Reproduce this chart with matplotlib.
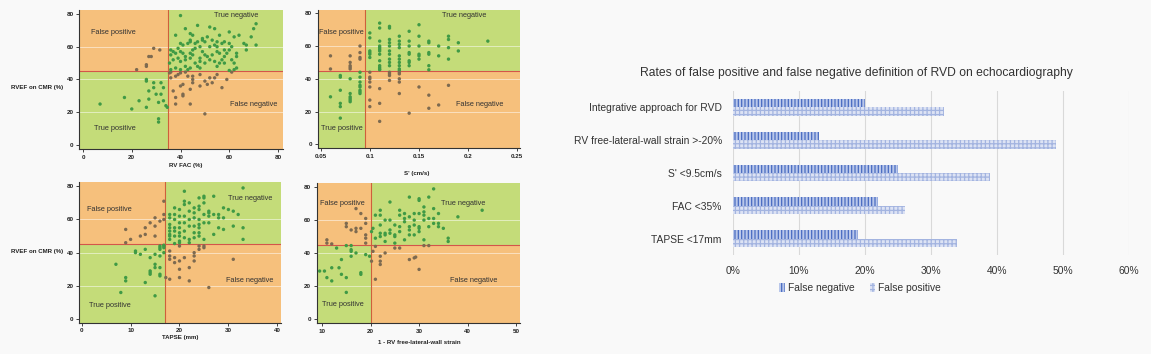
import numpy as np
import matplotlib
matplotlib.use('Agg')
import matplotlib.pyplot as plt
from matplotlib.patches import Rectangle, Patch

plt.rcParams['font.family'] = ['Liberation Sans', 'DejaVu Sans']
plt.rcParams['hatch.linewidth'] = 0.9

# ---- scatter data (x, RVEF on CMR) ----
fac_points = [
    # false positive
    (29, 59), (31.5, 58), (27, 54), (28, 54), (26, 49), (26, 48), (22, 46),
    # true positive
    (7, 25), (17, 29), (20, 22), (23, 27), (26, 40), (26, 39), (26, 23), (27, 33), (27, 28),
    (29, 38), (29, 35), (30, 31), (31, 16), (31, 14), (31, 26), (32, 38), (32, 31), (33, 27),
    (33, 35), (34, 24), (34.6, 23),
    # false negative
    (35.5, 44), (36, 41), (36, 44.5), (37, 33), (38, 29), (38, 25), (38, 42), (39, 43), (40, 44),
    (40, 36), (41, 31), (41, 30), (41, 37), (42, 44.5), (43, 42), (44, 34), (44, 25), (45, 42),
    (45, 40), (45, 38), (48, 43), (48, 36), (50, 39), (50, 19), (51, 37), (52, 41), (53, 38),
    (54, 41), (55, 43), (57, 35), (59, 40), (61, 44.5),
    # true negative
    (40, 79), (38, 67), (42, 71), (44, 68), (45, 67), (47, 73), (49, 65), (52, 72), (54, 71),
    (56, 67), (60, 69), (62, 66), (64, 67), (66, 62), (69, 66), (70, 71), (71, 74), (71, 61),
    (67, 58), (67, 61), (63, 56), (63, 54), (61, 60), (60, 58), (57, 62), (58, 63), (55, 63),
    (55, 57), (56, 56), (54, 61), (53, 64), (51, 66), (50, 63), (49, 64), (47, 63), (46, 62),
    (44, 64), (44, 63), (43, 62), (40, 62), (41, 61), (40, 57), (39, 59), (37, 57), (36, 58),
    (38, 56), (36, 55), (35.5, 50), (37, 52), (40, 51), (42, 54), (42, 52), (44, 56), (44, 53),
    (45, 55), (46, 50), (47, 48), (48, 53), (49, 57), (50, 55), (51, 54), (52, 52), (53, 55),
    (54, 51), (55, 48), (57, 52), (58, 54), (59, 56), (60, 62), (61, 52), (62, 50), (63, 47),
    (62, 46), (60, 45.5), (56, 50), (48, 47), (42, 48), (44, 47), (43, 46), (40, 46), (38, 47),
    (36, 46), (45, 58), (46, 59), (48, 60), (52, 60), (55, 60), (58, 58), (58, 50), (50, 50),
    (48, 51), (41, 56), (39, 53),
]

# S' values come in columns of 0.01 cm/s
s_cols = [0.06, 0.07, 0.08, 0.09, 0.10, 0.11, 0.12, 0.13, 0.14, 0.15, 0.16, 0.17, 0.18, 0.19, 0.22]
s_vals = [
    [54, 46, 29],
    [42, 41, 33, 25, 23, 16],
    [54, 50, 48, 47, 46, 40, 31, 29, 28, 27, 26],
    [60, 56, 53, 52, 44, 41, 38, 36, 35, 33, 32, 31],
    [68, 65, 57, 56, 55, 53, 44, 41, 40, 38, 35, 27, 23],
    [74, 71, 63, 60, 59, 58, 57, 55, 51, 48, 47, 46, 45.5, 34, 25, 14],
    [72, 71, 64, 62, 60, 57, 55, 52, 50, 48, 44, 43, 42, 39],
    [66, 63, 61, 59, 54, 52, 50, 48, 46, 45, 44, 43, 40, 38, 31],
    [69, 63, 60, 56, 55, 51, 50, 48, 19],
    [73, 66, 60, 55, 54, 52, 35],
    [63, 62, 56, 55, 48, 45.5, 30, 22],
    [60, 54, 24],
    [66, 64, 59, 52, 36],
    [62, 57],
    [63],
]

tapse_points = [
    # false positive
    (9, 54), (9, 46), (10, 48), (12, 50), (13, 51), (13, 55), (14, 58), (15, 61), (15, 56),
    (15, 50), (16, 59), (16.8, 71), (16.8, 63), (16.8, 60),
    # true positive
    (7, 33), (8, 16), (9, 25), (9, 23), (11, 41), (11, 40), (12, 39), (13, 42), (13, 22),
    (14, 37), (14, 29), (14, 28), (14, 27), (15, 39), (15, 33), (15, 31), (15, 14), (16, 38),
    (16, 27), (16, 26), (16, 44), (16, 43), (16, 42), (16, 31), (16.8, 44.5), (16.8, 44),
    (16.8, 43), (16.8, 40),
    # false negative
    (17.2, 25), (18, 41), (18, 38), (18, 36), (18, 24), (19, 37), (19, 34), (20, 44), (20, 35),
    (20, 30), (20, 25), (21, 37), (22, 31), (22, 23), (23, 40), (23, 38), (23, 35), (24, 44),
    (24, 42), (25, 44), (25, 43), (26, 19), (31, 36),
    # true negative
    (33, 79), (21, 77), (18, 63), (18, 61), (18, 57), (18, 55), (18, 53), (18, 51), (18, 50),
    (18, 48), (19, 67), (19, 63), (19, 60), (19, 55), (19, 53), (19, 50), (20, 66), (20, 62),
    (20, 58), (20, 55), (20, 52), (20, 50), (20, 47), (20, 46), (21, 71), (21, 69), (21, 62),
    (21, 58), (21, 53), (21, 49), (22, 70), (22, 65), (22, 60), (22, 56), (22, 48), (22, 46),
    (23, 67), (23, 64), (23, 61), (23, 56), (23, 52), (23, 49), (24, 73), (24, 68), (24, 66),
    (24, 60), (24, 57), (24, 55), (24, 52), (24, 50), (25, 74), (25, 73), (25, 70), (25, 63),
    (25, 58), (25, 48), (26, 62), (26, 58), (27, 74), (27, 63), (27, 51), (26, 64), (26, 65),
    (28, 63), (28, 61), (28, 55), (29, 67), (29, 54), (29, 61), (30, 66), (31, 65), (31, 56),
    (32, 63), (33, 55), (33, 48), (19, 45.5),
]

strain_points = [
    # false positive
    (11, 48), (11, 46), (12, 45.5), (15, 58), (15, 56), (16, 54), (17, 67), (17, 55), (17, 53),
    (18, 64), (19, 61), (19, 58), (19, 51), (19, 49), (19, 46), (18, 55),
    # true positive
    (9.5, 29), (10.5, 29), (11, 25), (12, 31), (12, 23), (13, 43), (13.5, 31), (14, 36),
    (14, 27), (15, 44.5), (15, 25), (15, 16), (16, 44.5), (16, 41), (16, 42), (16, 38),
    (17, 40), (18, 28), (18, 27), (19, 39), (19.8, 38),
    # false negative
    (20.2, 35), (20.5, 41), (21, 44), (21, 24), (22, 38), (22, 35), (22, 33), (23, 40),
    (25, 43), (26, 43), (28, 36), (29, 37), (29.3, 37.5), (30, 30), (31, 44.5), (32, 44.5),
    # true negative
    (20.2, 53), (20.5, 55), (21, 63), (21, 49), (22, 57), (22, 52), (22, 50), (22, 63), (22, 66),
    (23, 60), (23, 52), (23, 51), (23, 47), (24, 60), (24, 54), (24, 52), (24, 71), (25, 57),
    (25, 51), (25, 50), (25, 46), (26, 66), (26, 63), (26, 56), (26, 53), (27, 64), (27, 59),
    (27, 61), (27, 48), (28, 74), (28, 62), (28, 56), (28, 51), (28, 54), (29, 64), (29, 57),
    (29, 51), (30, 73), (30, 72), (30, 64), (30, 56), (30, 55), (30, 53), (31, 68), (31, 65),
    (31, 60), (31, 48), (32, 74), (32, 61), (32, 56), (33, 79), (33, 67), (33, 61), (33, 58),
    (34, 64), (34, 58), (34, 56), (35, 55), (36, 49), (36, 47), (38, 62), (43, 66), (29, 60),
    (31, 63),
]

# ---- bar chart data ----
methods = ['Integrative approach for RVD', 'RV free-lateral-wall strain >-20%',
           "S' <9.5cm/s", 'FAC <35%', 'TAPSE <17mm']
false_negative = [0.20, 0.13, 0.25, 0.22, 0.19]
false_positive = [0.32, 0.49, 0.39, 0.26, 0.34]

BG = '#f9f9f9'
ORANGE = '#f6c07c'
GREEN = '#c4dc79'
PT_GREEN = '#3f9a45'
PT_BROWN = '#7d6a50'

fig = plt.figure(figsize=(11.51, 3.54), dpi=100, facecolor=BG)


def quad_panel(rect, pts, thr, xlim, ylim, xticks, xticklabels, texts):
    ax = fig.add_axes(rect)
    ax.set_facecolor(BG)
    x0, x1 = xlim
    y0, y1 = ylim
    ax.add_patch(Rectangle((x0, 45), thr - x0, y1 - 45, fc=ORANGE, ec='none', zorder=0))
    ax.add_patch(Rectangle((thr, 45), x1 - thr, y1 - 45, fc=GREEN, ec='none', zorder=0))
    ax.add_patch(Rectangle((x0, y0), thr - x0, 45 - y0, fc=GREEN, ec='none', zorder=0))
    ax.add_patch(Rectangle((thr, y0), x1 - thr, 45 - y0, fc=ORANGE, ec='none', zorder=0))
    for yy in [20, 40, 60]:
        ax.axhline(yy, color='white', lw=0.6, alpha=0.6, zorder=0.5)
    ax.axhline(45, color='#d4554a', lw=0.8, zorder=2)
    ax.axvline(thr, color='#cf5f3c', lw=0.8, zorder=2)
    pts = np.array(pts, dtype=float)
    green = (pts[:, 0] < thr) == (pts[:, 1] < 45)
    colors = np.where(green, PT_GREEN, PT_BROWN)
    ax.scatter(pts[:, 0], pts[:, 1], s=6, c=colors, linewidths=0, zorder=3)
    ax.set_xlim(xlim)
    ax.set_ylim(ylim)
    ax.set_xticks(xticks)
    ax.set_xticklabels(xticklabels)
    ax.set_yticks([0, 20, 40, 60, 80])
    for sp in ['top', 'right']:
        ax.spines[sp].set_visible(False)
    for sp in ['left', 'bottom']:
        ax.spines[sp].set_color('#333333')
        ax.spines[sp].set_linewidth(0.8)
    ax.tick_params(length=2, width=0.6, pad=2, labelsize=4.5, colors='#222222')
    for lab in ax.get_xticklabels() + ax.get_yticklabels():
        lab.set_fontweight('bold')
    for txt, (tx, ty) in texts.items():
        ax.text(tx, ty, txt, fontsize=5.3, color='#333333', ha='left', va='center', zorder=4)
    return ax


quad_panel([0.06864, 0.57910, 0.17724, 0.39266], fac_points, 35,
           (-1.64, 82.05), (-2.44, 82.4), [0, 20, 40, 60, 80], ['0', '20', '40', '60', '80'],
           {'False positive': (3.3, 68.6), 'True negative': (53.7, 79),
            'False negative': (60.3, 24.6), 'True positive': (4.6, 10.3)})

s_points = [(x, v) for x, col in zip(s_cols, s_vals) for v in col]
quad_panel([0.27602, 0.58192, 0.17576, 0.38983], s_points, 0.095,
           (0.047, 0.2527), (-2.26, 82), [0.05, 0.1, 0.15, 0.2, 0.25],
           ['0.05', '0.1', '0.15', '0.2', '0.25'],
           {'False positive': (0.048, 68), 'True negative': (0.173, 78.6),
            'False negative': (0.188, 24.4), 'True positive': (0.0503, 9.8)})

quad_panel([0.06864, 0.08842, 0.1755, 0.39661], tapse_points, 17,
           (-0.55, 40.76), (-2.2, 82.4), [0, 10, 20, 30, 40], ['0', '10', '20', '30', '40'],
           {'False positive': (1.15, 66), 'True negative': (29.9, 72.5),
            'False negative': (29.5, 23), 'True positive': (1.5, 8)})

quad_panel([0.27515, 0.08672, 0.17663, 0.39548], strain_points, 20,
           (8.9, 50.8), (-2.8, 82.4), [10, 20, 30, 40, 50], ['10', '20', '30', '40', '50'],
           {'False positive': (9.6, 70), 'True negative': (34.6, 70),
            'False negative': (36.4, 23.4), 'True positive': (10, 8.8)})

W, H = 1151, 354
lab_kw = dict(fontsize=4.4, fontweight='bold', color='#222222', ha='center', va='center')
fig.text(37 / W, 1 - 88 / H, 'RVEF on CMR (%)', **lab_kw)
fig.text(37 / W, 1 - 252 / H, 'RVEF on CMR (%)', **lab_kw)
fig.text(186 / W, 1 - 166 / H, 'RV FAC (%)', **lab_kw)
fig.text(417 / W, 1 - 174 / H, "S' (cm/s)", **lab_kw)
fig.text(180 / W, 1 - 338 / H, 'TAPSE (mm)', **lab_kw)
fig.text(419 / W, 1 - 342 / H, '1 - RV free-lateral-wall strain', **lab_kw)

# ---- bar chart ----
ax = fig.add_axes([0.6368, 0.2797, 0.3441, 0.4633])
ax.set_facecolor(BG)
pos = np.arange(len(methods))
bh = 0.255
fn_style = dict(facecolor='#b9c7ea', edgecolor='#4a6cc2', hatch='|||||', linewidth=0)
fp_style = dict(facecolor='#dde3f4', edgecolor='#a3b4e0', hatch='++++', linewidth=0)
ax.barh(pos - bh / 2, false_negative, height=bh, zorder=2, **fn_style)
ax.barh(pos + bh / 2, false_positive, height=bh, zorder=2, **fp_style)
ax.set_ylim(4.5, -0.5)
ax.set_xlim(0, 0.6)
ax.set_xticks(np.arange(0, 0.61, 0.1))
ax.set_xticklabels(['%d%%' % round(v * 100) for v in np.arange(0, 0.61, 0.1)])
ax.set_yticks(pos)
ax.set_yticklabels(methods)
ax.grid(axis='x', color='#d9d9d9', lw=0.8)
ax.set_axisbelow(True)
for sp in ax.spines.values():
    sp.set_visible(False)
ax.tick_params(length=0, labelsize=7.4, colors='#333333')
ax.tick_params(axis='y', pad=8)
ax.tick_params(axis='x', pad=8)

fig.text(856 / W, 1 - 73 / H, 'Rates of false positive and false negative definition of RVD on echocardiography',
         fontsize=8.75, color='#333333', ha='center', va='center')

handles = [Patch(**fn_style), Patch(**fp_style)]
fig.legend(handles, ['False negative', 'False positive'], loc='center',
           bbox_to_anchor=(860 / W, 1 - 288 / H), ncol=2, frameon=False,
           fontsize=7.4, handlelength=0.5, handleheight=0.9, handletextpad=0.3,
           columnspacing=1.5, labelcolor='#333333')

fig.savefig('out.png', dpi=100, facecolor=BG)
